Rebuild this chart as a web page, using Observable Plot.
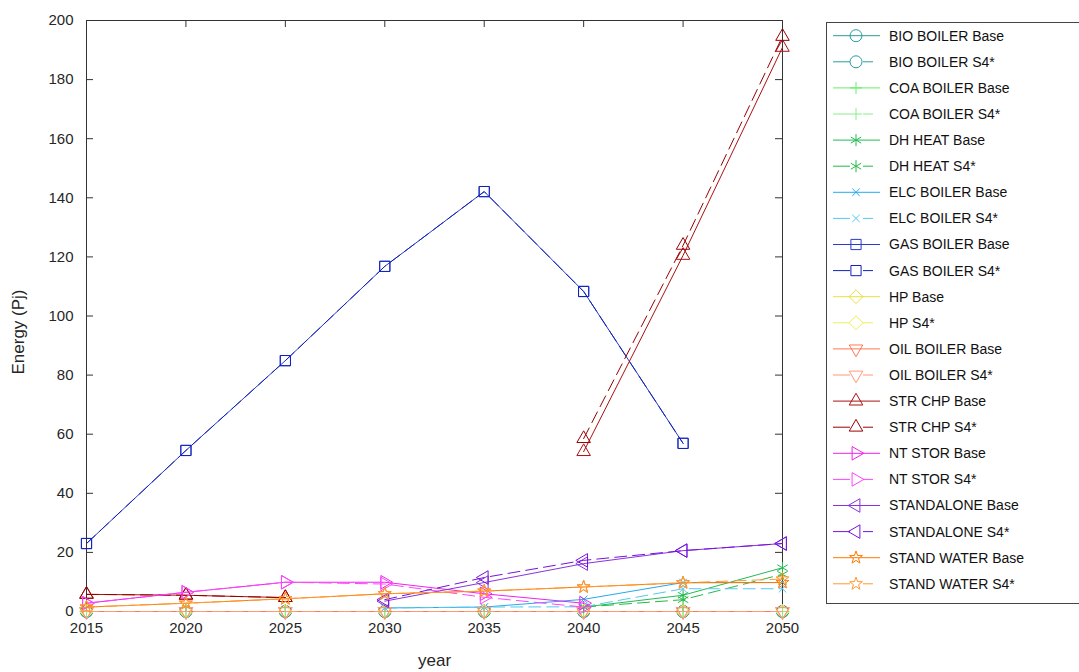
<!DOCTYPE html>
<html>
<head>
<meta charset="utf-8">
<script src="https://cdn.jsdelivr.net/npm/d3@7"></script>
<script src="https://cdn.jsdelivr.net/npm/@observablehq/plot@0.6"></script>
<style>
  html, body { margin: 0; padding: 0; background: #fff; }
  #wrap { position: relative; width: 1079px; height: 672px; overflow: hidden; font-family: "Liberation Sans", Arial, sans-serif; }
</style>
</head>
<body>
<div id="wrap"></div>
<script>
// ---------- data ----------
const years = [2015, 2020, 2025, 2030, 2035, 2040, 2045, 2050];
const yTicks = [0, 20, 40, 60, 80, 100, 120, 140, 160, 180, 200];

const technologies = ["BIO BOILER", "COA BOILER", "DH HEAT", "ELC BOILER", "GAS BOILER", "HP",
  "OIL BOILER", "STR CHP", "NT STOR", "STANDALONE", "STAND WATER"];
const scenarios = ["Base", "S4*"];
const baseColors = ["#2a9d9d", "#66ee66", "#22bb55", "#22aaee", "#2a3cc4", "#e8e040",
  "#ff7755", "#aa1111", "#ee22ee", "#8833dd", "#ff7a00"];
const s4Colors = ["#2a9d9d", "#88ee88", "#22bb44", "#55c8f0", "#1122bb", "#eeee55",
  "#ff9977", "#990000", "#ff44ff", "#7711dd", "#ff9933"];
const markerNames = ["circle", "plus", "asterisk", "times", "square", "diamond",
  "triangleDown", "triangleUp", "triangleRight", "triangleLeft", "star"];

const bioBoilerBase   = [0, 0, 0, 0, 0, 0, 0, 0];
const bioBoilerS4     = [0, 0, 0, 0, 0, 0, 0, 0];
const coaBoilerBase   = [0, 0, 0, 0, 0, 0, 0, 0];
const coaBoilerS4     = [0, 0, 0, 0, 0, 0, 0, 0];
const dhHeatBase      = [null, null, null, null, null, 1.5, 5.5, 14.8];
const dhHeatS4        = [null, null, null, null, null, 1.5, 4, 12.6];
const elcBoilerBase   = [null, null, null, 1.2, 1.5, 4.1, 9.8, 9.8];
const elcBoilerS4     = [null, null, null, 1.2, 1.5, 1.6, 7.7, 7.7];
const gasBoilerBase   = [23, 54.5, 84.9, 116.8, 142.1, 108.3, 56.9, null];
const gasBoilerS4     = [23, 54.5, 84.9, 116.8, 142.1, 108.3, 56.9, null];
const hpBase          = [0, 0, 0, 0, 0, 0, 0, 0];
const hpS4            = [0, 0, 0, 0, 0, 0, 0, 0];
const oilBoilerBase   = [0, 0, 0, 0, 0, 0, 0, 0];
const oilBoilerS4     = [0, 0, 0, 0, 0, 0, 0, 0];
const strChpBase      = [5.8, 5.5, 4.7, null, null, 54.1, 120.5, 190.9];
const strChpS4        = [5.8, 5.5, 4.7, null, null, 58.5, 123.9, 194.6];
const ntStorBase      = [2.8, 6.5, 9.9, 9.9, 6, 2.8, null, null];
const ntStorS4        = [2.8, 6.5, 9.9, 9.3, 4.8, 1.5, null, null];
const standaloneBase  = [null, null, null, 3.5, 9.8, 16.2, 20.6, 23];
const standaloneS4    = [null, null, null, 4, 11.5, 17.3, 20.6, 23];
const standWaterBase  = [1.5, 2.8, 4.3, 6, 6.9, 8.3, 9.7, 9.8];
const standWaterS4    = [1.5, 2.8, 4.3, 6, 6.9, 8.3, 9.7, 11];

const seriesValues = [
  [bioBoilerBase, bioBoilerS4], [coaBoilerBase, coaBoilerS4], [dhHeatBase, dhHeatS4],
  [elcBoilerBase, elcBoilerS4], [gasBoilerBase, gasBoilerS4], [hpBase, hpS4],
  [oilBoilerBase, oilBoilerS4], [strChpBase, strChpS4], [ntStorBase, ntStorS4],
  [standaloneBase, standaloneS4], [standWaterBase, standWaterS4]
];

// ---------- marker shapes (MATLAB-like) ----------
function symbolFrom(fn) { return { draw(c, size) { fn(c, Math.sqrt(size / Math.PI)); } }; }
function triangle(apexDeg) {
  return symbolFrom((c, r) => {
    const R = 1.3 * r;
    for (let k = 0; k < 3; k++) {
      const t = (apexDeg + k * 120) * Math.PI / 180;
      const px = R * Math.cos(t), py = R * Math.sin(t);
      if (k === 0) c.moveTo(px, py); else c.lineTo(px, py);
    }
    c.closePath();
  });
}
const shapes = {
  circle: symbolFrom((c, r) => { c.moveTo(r, 0); c.arc(0, 0, r, 0, 2 * Math.PI); }),
  plus: symbolFrom((c, r) => { c.moveTo(-r, 0); c.lineTo(r, 0); c.moveTo(0, -r); c.lineTo(0, r); }),
  asterisk: symbolFrom((c, r) => {
    for (const a of [90, 30, 150]) {
      const t = a * Math.PI / 180, dx = r * Math.cos(t), dy = r * Math.sin(t);
      c.moveTo(-dx, -dy); c.lineTo(dx, dy);
    }
  }),
  times: symbolFrom((c, r) => {
    const s = 0.62 * r;
    c.moveTo(-s, -s); c.lineTo(s, s); c.moveTo(-s, s); c.lineTo(s, -s);
  }),
  square: symbolFrom((c, r) => {
    const s = 0.85 * r;
    c.moveTo(-s, -s); c.lineTo(s, -s); c.lineTo(s, s); c.lineTo(-s, s); c.closePath();
  }),
  diamond: symbolFrom((c, r) => {
    const s = 1.15 * r;
    c.moveTo(0, -s); c.lineTo(s, 0); c.lineTo(0, s); c.lineTo(-s, 0); c.closePath();
  }),
  triangleDown: triangle(90),
  triangleUp: triangle(-90),
  triangleRight: triangle(0),
  triangleLeft: triangle(180),
  star: symbolFrom((c, r) => {
    const R = 1.12 * r, ri = R * 0.4;
    for (let k = 0; k < 10; k++) {
      const t = (-90 + k * 36) * Math.PI / 180, rr = k % 2 ? ri : R;
      const px = rr * Math.cos(t), py = rr * Math.sin(t);
      if (k === 0) c.moveTo(px, py); else c.lineTo(px, py);
    }
    c.closePath();
  })
};

// ---------- build series ----------
const entries = [];
technologies.forEach((tech, i) => {
  scenarios.forEach((sc, j) => {
    entries.push({
      name: `${tech} ${sc}`,
      color: j === 0 ? baseColors[i] : s4Colors[i],
      dashed: j === 1,
      shape: shapes[markerNames[i]],
      rows: years.map((yr, k) => ({ year: yr, value: seriesValues[i][j][k] }))
    });
  });
});

const W = 1079, H = 672, mL = 86, mR = 297, mT = 20, mB = 61;
const plotW = W - mL - mR, plotH = H - mT - mB;
const DASH = "12,6";
const axisColor = "#333";
const FONT = "'Liberation Sans', Arial, sans-serif";

const seriesMarks = entries.flatMap(e => [
  Plot.line(e.rows, { x: "year", y: "value", stroke: e.color, strokeWidth: 1,
    strokeDasharray: e.dashed ? DASH : null }),
  Plot.dot(e.rows, { x: "year", y: "value", symbol: e.shape, r: 6, stroke: e.color,
    fill: "none", strokeWidth: 1 })
]);

const chart = Plot.plot({
  width: W, height: H,
  marginLeft: mL, marginRight: mR, marginTop: mT, marginBottom: mB,
  style: { fontFamily: FONT, fontSize: "15px", color: "#262626", background: "white" },
  x: { domain: [2015, 2050] },
  y: { domain: [0, 200] },
  marks: [
    Plot.frame({ stroke: axisColor, strokeWidth: 1 }),
    Plot.tickY(yTicks, { insetRight: plotW - 7, stroke: axisColor }),
    Plot.tickY(yTicks, { insetLeft: plotW - 7, stroke: axisColor }),
    Plot.tickX(years, { insetTop: plotH - 7, stroke: axisColor }),
    Plot.tickX(years, { insetBottom: plotH - 7, stroke: axisColor }),
    Plot.axisY({ ticks: yTicks, tickSize: 0, tickPadding: 13, fontSize: 15, label: null }),
    Plot.axisX({ ticks: years, tickSize: 0, tickPadding: 11, fontSize: 15, label: null, tickFormat: d => String(d) }),
    ...seriesMarks,
    Plot.text(["year"], { frameAnchor: "bottom", dy: 54, fontSize: 17, fill: "#262626" })
  ]
});
const wrap = document.getElementById("wrap");
wrap.appendChild(chart);

// ---------- overlay: y label + legend ----------
const leg = d3.select(wrap).append("svg")
  .attr("width", W).attr("height", H)
  .style("position", "absolute").style("left", "0px").style("top", "0px");

leg.append("text")
  .attr("transform", "translate(18,332) rotate(-90)")
  .attr("text-anchor", "middle").attr("dy", "0.35em")
  .attr("font-size", 17).attr("font-family", FONT).attr("fill", "#262626")
  .text("Energy (Pj)");

leg.append("rect").attr("x", 826.5).attr("y", 22.5).attr("width", 300).attr("height", 581)
  .attr("fill", "white").attr("stroke", "#444").attr("stroke-width", 1);
entries.forEach((e, i) => {
  const y = 35.7 + i * 26.1;
  const g = leg.append("g");
  g.append("line").attr("x1", 833).attr("x2", e.dashed ? 873 : 880).attr("y1", y).attr("y2", y)
    .attr("stroke", e.color).attr("stroke-width", 1)
    .attr("stroke-dasharray", e.dashed ? "17,13" : null);
  g.append("path").attr("d", d3.symbol().type(e.shape).size(Math.PI * 36)())
    .attr("transform", `translate(856,${y})`)
    .attr("fill", "none").attr("stroke", e.color).attr("stroke-width", 1);
  g.append("text").attr("x", 889).attr("y", y).attr("dy", "0.35em")
    .attr("font-size", 14).attr("fill", "#111")
    .attr("font-family", FONT)
    .text(e.name);
});
</script>
</body>
</html>
